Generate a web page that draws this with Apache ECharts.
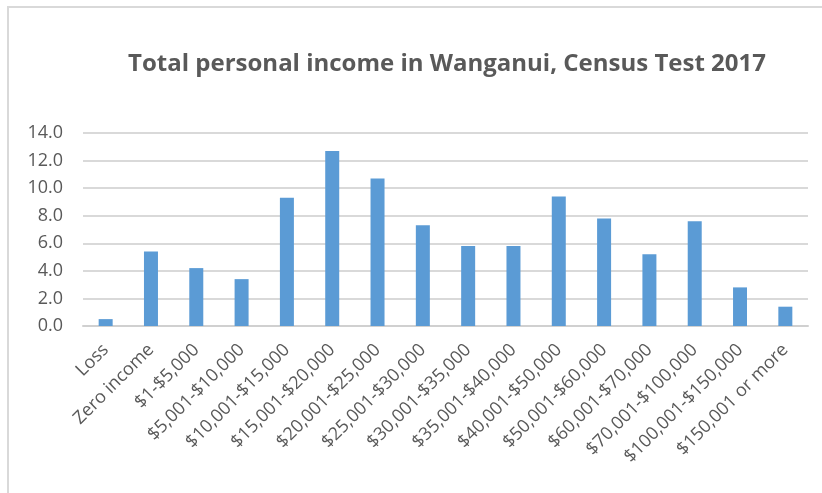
<!DOCTYPE html>
<html>
<head>
<meta charset="utf-8">
<script src="https://cdn.jsdelivr.net/npm/echarts@6/dist/echarts.min.js"></script>
<style>html,body{margin:0;padding:0;background:#fff}#c{width:822px;height:493px}</style>
</head>
<body>
<div id="c"></div>
<script>
const categories = ["Loss","Zero income","$1-$5,000","$5,001-$10,000","$10,001-$15,000","$15,001-$20,000","$20,001-$25,000","$25,001-$30,000","$30,001-$35,000","$35,001-$40,000","$40,001-$50,000","$50,001-$60,000","$60,001-$70,000","$70,001-$100,000","$100,001-$150,000","$150,001 or more"];
const values = [0.5, 5.4, 4.2, 3.4, 9.3, 12.7, 10.7, 7.3, 5.8, 5.8, 9.4, 7.8, 5.2, 7.6, 2.8, 1.4];
const titleText = "Total personal income in Wanganui, Census Test 2017";

const chart = echarts.init(document.getElementById('c'));
chart.setOption({
  animation: false,
  graphic: [{
    type: 'rect', left: 7, top: 6, z: -1,
    shape: { width: 830, height: 500 },
    style: { fill: '#fff', stroke: '#d9d9d9', lineWidth: 2 }
  }],
  title: {
    text: titleText, left: 442, top: 47, textAlign: 'center',
    textStyle: { fontFamily: 'Open Sans', fontWeight: 'bold', fontSize: 24, color: '#595959' }
  },
  grid: { left: 83, right: 14, top: 133, bottom: 167 },
  xAxis: {
    type: 'category', data: categories,
    axisLine: { lineStyle: { color: '#d0d0d0', width: 2 } },
    axisTick: { show: false },
    axisLabel: { rotate: 45, interval: 0, fontFamily: 'Open Sans', fontSize: 18, color: '#595959', margin: 21 }
  },
  yAxis: {
    type: 'value', min: 0, max: 14, interval: 2,
    axisLine: { show: false }, axisTick: { show: false },
    splitLine: { lineStyle: { color: '#d9d9d9', width: 2 } },
    axisLabel: { formatter: v => v.toFixed(1), fontFamily: 'Open Sans', fontSize: 18, color: '#595959', margin: 20 }
  },
  series: [{
    type: 'bar', data: values, barWidth: 14,
    itemStyle: { color: '#5b9bd5' }
  }]
});
</script>
</body>
</html>
